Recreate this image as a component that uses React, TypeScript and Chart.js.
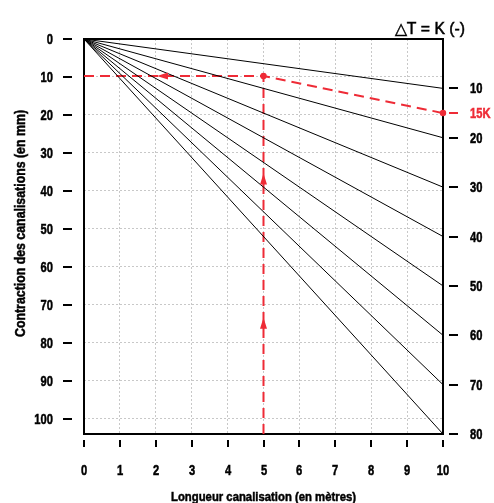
import React, { useEffect, useRef } from "react";
import { Chart, registerables } from "chart.js";

Chart.register(...registerables);

// ---- data ----
const deltaT = [10, 20, 30, 40, 50, 60, 70, 80];
const contractionAt10m = [13, 26, 39, 52, 65, 78, 91, 104];
const xTicks = [0, 1, 2, 3, 4, 5, 6, 7, 8, 9, 10];
const yTicks = [0, 10, 20, 30, 40, 50, 60, 70, 80, 90, 100];
const refLabel = "15K";
const refContractionAt10m = 19.5;
const refLength = 5;
const refContraction = 9.75;
const arrowX = [2.2, 5, 5];
const arrowY = [9.75, 37, 75];
const arrowDir = ["left", "up", "up"];
const xTitle = "Longueur canalisation (en mètres)";
const yTitle = "Contraction des canalisations (en mm)";
const rightTitle = "\u25B3T = K (-)";

const X_MAX = 10;
const Y_MAX = 104;
const RED = "#ee2b36";
const FONT = "'Liberation Sans', Arial, sans-serif";
const TICK_FONT = `bold 14.5px ${FONT}`;
const TICK_SX = 0.77;

const rightTickValues = [...contractionAt10m, refContractionAt10m];
const rightLabel = (v: number) => {
  if (v === refContractionAt10m) return refLabel;
  const i = contractionAt10m.indexOf(v);
  return i >= 0 ? String(deltaT[i]) : "";
};

function drawText(ctx: CanvasRenderingContext2D, text: string, x: number, y: number, sx: number, align: CanvasTextAlign) {
  ctx.save();
  ctx.translate(x, y);
  ctx.scale(sx, 1);
  ctx.textAlign = align;
  ctx.textBaseline = "alphabetic";
  ctx.lineWidth = 0.5;
  ctx.strokeStyle = ctx.fillStyle as string;
  ctx.fillText(text, 0, 0);
  ctx.strokeText(text, 0, 0);
  ctx.restore();
}

function drawFitted(ctx: CanvasRenderingContext2D, text: string, cx: number, y: number, width: number) {
  const w = ctx.measureText(text).width;
  drawText(ctx, text, cx, y, width / w, "center");
}

const decorPlugin = {
  id: "decor",
  beforeDatasetsDraw(chart: any) {
    const { ctx, chartArea: a } = chart;
    ctx.save();
    ctx.strokeStyle = "#000";
    ctx.lineWidth = 2;
    ctx.strokeRect(a.left, a.top, a.right - a.left, a.bottom - a.top);
    ctx.restore();
  },
  afterDraw(chart: any) {
    const { ctx, chartArea: a } = chart;
    const xs = chart.scales.x;
    const ys = chart.scales.y;
    const y2 = chart.scales.y2;
    ctx.save();
    ctx.lineWidth = 2;
    ctx.strokeStyle = "#000";
    ctx.fillStyle = "#000";
    ctx.font = TICK_FONT;
    // bottom axis
    xTicks.forEach((v) => {
      const px = Math.round(xs.getPixelForValue(v));
      ctx.lineWidth = 2;
      ctx.strokeStyle = "#000";
      ctx.beginPath();
      ctx.moveTo(px, a.bottom + 6);
      ctx.lineTo(px, a.bottom + 13);
      ctx.stroke();
      drawText(ctx, String(v), px, 475, TICK_SX, "center");
    });
    // left axis
    yTicks.forEach((v) => {
      const py = Math.round(ys.getPixelForValue(v));
      ctx.lineWidth = 2;
      ctx.strokeStyle = "#000";
      ctx.beginPath();
      ctx.moveTo(a.left - 21, py);
      ctx.lineTo(a.left - 12, py);
      ctx.stroke();
      drawText(ctx, String(v), 53, py + 5.2, TICK_SX, "right");
    });
    // right axis
    rightTickValues.forEach((v) => {
      const py = Math.round(y2.getPixelForValue(v));
      const col = v === refContractionAt10m ? RED : "#000";
      ctx.lineWidth = 2;
      ctx.strokeStyle = col;
      ctx.fillStyle = col;
      ctx.beginPath();
      ctx.moveTo(a.right + 6, py);
      ctx.lineTo(a.right + 15, py);
      ctx.stroke();
      drawText(ctx, rightLabel(v), a.right + 27, py + 5.2, TICK_SX, "left");
    });
    // arrows
    ctx.fillStyle = RED;
    arrowX.forEach((vx, i) => {
      const px = xs.getPixelForValue(vx);
      const py = ys.getPixelForValue(arrowY[i]);
      ctx.beginPath();
      if (arrowDir[i] === "left") {
        ctx.moveTo(px - 6, py);
        ctx.lineTo(px + 5, py - 3.5);
        ctx.lineTo(px + 5, py + 3.5);
      } else {
        ctx.moveTo(px, py - 6);
        ctx.lineTo(px - 3.5, py + 5);
        ctx.lineTo(px + 3.5, py + 5);
      }
      ctx.closePath();
      ctx.fill();
    });
    // titles
    ctx.fillStyle = "#000";
    ctx.font = `16px ${FONT}`;
    drawFitted(ctx, rightTitle, 430, 33.5, 70);
    ctx.font = `bold 13.5px ${FONT}`;
    drawFitted(ctx, xTitle, (a.left + a.right) / 2, 501, 185);
    ctx.save();
    ctx.translate(24.5, 223.5);
    ctx.rotate(-Math.PI / 2);
    ctx.font = `bold 14.5px ${FONT}`;
    drawFitted(ctx, yTitle, 0, 0, 227);
    ctx.restore();
    ctx.restore();
  },
};

export default function App() {
  const ref = useRef<HTMLCanvasElement | null>(null);
  useEffect(() => {
    if (!ref.current) return;
    const lineSets = contractionAt10m.map((v, i) => ({
      label: `${deltaT[i]}K`,
      data: [
        { x: 0, y: 0 },
        { x: X_MAX, y: v },
      ],
      borderColor: "#000",
      borderWidth: 1,
      pointRadius: 0,
      yAxisID: "y",
    }));
    const chart = new Chart(ref.current, {
      type: "line",
      data: {
        datasets: [
          ...lineSets,
          {
            label: "ref",
            data: [
              { x: 0, y: refContraction },
              { x: refLength, y: refContraction },
              { x: X_MAX, y: refContractionAt10m },
            ],
            borderColor: RED,
            borderWidth: 2,
            borderDash: [10, 6],
            pointRadius: 0,
            yAxisID: "y",
          },
          {
            label: "refV",
            data: [
              { x: refLength, y: Y_MAX },
              { x: refLength, y: refContraction },
            ],
            borderColor: RED,
            borderWidth: 2,
            borderDash: [10, 6],
            pointRadius: 0,
            yAxisID: "y",
          },
          {
            label: "dots",
            data: [
              { x: refLength, y: refContraction },
              { x: X_MAX, y: refContractionAt10m },
            ],
            showLine: false,
            pointRadius: 3.2,
            pointBackgroundColor: RED,
            pointBorderWidth: 0,
            clip: false as any,
            yAxisID: "y",
          },
        ] as any,
      },
      options: {
        animation: false,
        responsive: false,
        layout: { padding: { top: 39, left: 0, right: 0, bottom: 0 } },
        plugins: { legend: { display: false }, tooltip: { enabled: false } },
        scales: {
          x: {
            type: "linear",
            min: 0,
            max: X_MAX,
            afterBuildTicks: (s: any) => {
              s.ticks = xTicks.map((v) => ({ value: v }));
            },
            afterFit: (s: any) => {
              s.height = 69;
            },
            grid: { color: "#c8c8c8", lineWidth: 1, drawTicks: false, borderDash: [2, 2] } as any,
            border: { display: false, dash: [2, 2] },
            ticks: { display: false },
          },
          y: {
            type: "linear",
            position: "left",
            reverse: true,
            min: 0,
            max: Y_MAX,
            afterBuildTicks: (s: any) => {
              s.ticks = yTicks.map((v) => ({ value: v }));
            },
            afterFit: (s: any) => {
              s.width = 84;
            },
            grid: { color: "#c8c8c8", lineWidth: 1, drawTicks: false, borderDash: [2, 2] } as any,
            border: { display: false, dash: [2, 2] },
            ticks: { display: false },
          },
          y2: {
            type: "linear",
            position: "right",
            reverse: true,
            min: 0,
            max: Y_MAX,
            afterBuildTicks: (s: any) => {
              s.ticks = rightTickValues.map((v) => ({ value: v }));
            },
            afterFit: (s: any) => {
              s.width = 51;
            },
            grid: { display: false, drawTicks: false },
            border: { display: false },
            ticks: { display: false },
          },
        },
      },
      plugins: [decorPlugin],
    });
    return () => chart.destroy();
  }, []);
  return (
    <div style={{ position: "fixed", left: 0, top: 0, width: 494, height: 503, background: "#fff" }}>
      <canvas ref={ref} width={494} height={503} style={{ display: "block" }} />
    </div>
  );
}
